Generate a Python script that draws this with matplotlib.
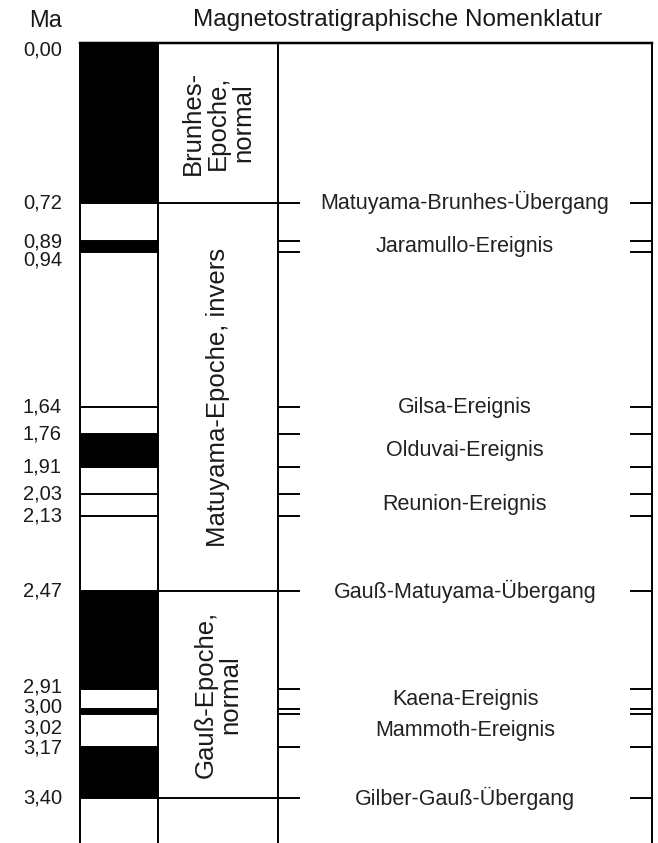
import matplotlib.pyplot as plt

plt.rcParams['font.family'] = ['Liberation Sans', 'DejaVu Sans']

# boundaries in Ma (age), labels on the left side
ma_ticks = [0.00, 0.72, 0.89, 0.94, 1.64, 1.76, 1.91, 2.03, 2.13, 2.47, 2.91, 3.00, 3.02, 3.17, 3.40]
tick_labels = ["0,00", "0,72", "0,89", "0,94", "1,64", "1,76", "1,91", "2,03", "2,13",
               "2,47", "2,91", "3,00", "3,02", "3,17", "3,40"]

# normal polarity (black) intervals
normal_start = [0.00, 0.89, 1.76, 2.47, 3.00, 3.17]
normal_end = [0.72, 0.94, 1.91, 2.91, 3.02, 3.40]

# epochs
epochs = ["Brunhes-\nEpoche,\nnormal", "Matuyama-Epoche, invers", "Gauß-Epoche,\nnormal"]
epoch_start = [0.00, 0.72, 2.47]
epoch_end = [0.72, 2.47, 3.40]

# nomenclature column
events = ["Matuyama-Brunhes-Übergang", "Jaramullo-Ereignis", "Gilsa-Ereignis",
          "Olduvai-Ereignis", "Reunion-Ereignis", "Gauß-Matuyama-Übergang",
          "Kaena-Ereignis", "Mammoth-Ereignis", "Gilber-Gauß-Übergang"]
event_start = [0.72, 0.89, 1.64, 1.76, 2.03, 2.47, 2.91, 3.02, 3.40]
event_end = [0.72, 0.94, 1.64, 1.91, 2.13, 2.47, 3.00, 3.17, 3.40]

transitions = [0.72, 2.47, 3.40]

# layout (pixel columns) and label nudges in points
x_bar0, x_bar1, x_ep1, x_right = 80, 158, 278, 652
tick_len = 21
label_nudge = {"0,00": -5, "0,89": -1, "0,94": -6, "2,91": 1.5, "3,00": 1.5, "3,02": -10, "3,17": -0.5}

fig = plt.figure(figsize=(6.58, 8.43), dpi=100)
ax = fig.add_axes([0, 0, 1, 1])
scale = 3.40 / 755
ax.set_xlim(0, 658)
ax.set_ylim((843 - 43) * scale, -43 * scale)
ax.axis('off')

lw = 1.4
# black polarity bars
for s, e in zip(normal_start, normal_end):
    ax.fill_between([x_bar0, x_bar1], s, e, color='black', linewidth=0)
for m in ma_ticks[1:]:
    ax.plot([x_bar0, x_bar1], [m, m], color='black', lw=lw)

# vertical column lines
top = ma_ticks[0]
bottom = ax.get_ylim()[0]
for x in [x_bar0, x_bar1, x_ep1, x_right]:
    ax.plot([x, x], [top, bottom], color='black', lw=lw)
ax.plot([x_bar0, x_right], [top, top], color='black', lw=lw + 0.4)

# ticks in nomenclature column
for m in ma_ticks[1:]:
    x0 = x_bar1 if m in transitions else x_ep1
    ax.plot([x0, x_ep1 + tick_len], [m, m], color='black', lw=lw)
    ax.plot([x_right - tick_len, x_right], [m, m], color='black', lw=lw)

# left labels
for m, lab in zip(ma_ticks, tick_labels):
    ax.annotate(lab, (62, m), xytext=(0, label_nudge.get(lab, 0)), textcoords='offset points',
                ha='right', va='center', fontsize=14.5, color='#1a1a1a')

# epochs
for name, s, e in zip(epochs, epoch_start, epoch_end):
    ax.text((x_bar1 + x_ep1) / 2, (s + e) / 2, name, rotation=90, ha='center', va='center',
            fontsize=18.5, color='#1a1a1a', linespacing=1.05)

# events
for name, s, e in zip(events, event_start, event_end):
    ax.text((x_ep1 + x_right) / 2, (s + e) / 2, name, ha='center', va='center',
            fontsize=15.5, color='#222222')

# headers
ax.text(62, -0.10, "Ma", ha='right', va='center', fontsize=17, color='#1a1a1a')
ax.text(398, -0.105, "Magnetostratigraphische Nomenklatur", ha='center', va='center',
        fontsize=17.5, color='#1a1a1a')

fig.savefig("out.png", dpi=100)
